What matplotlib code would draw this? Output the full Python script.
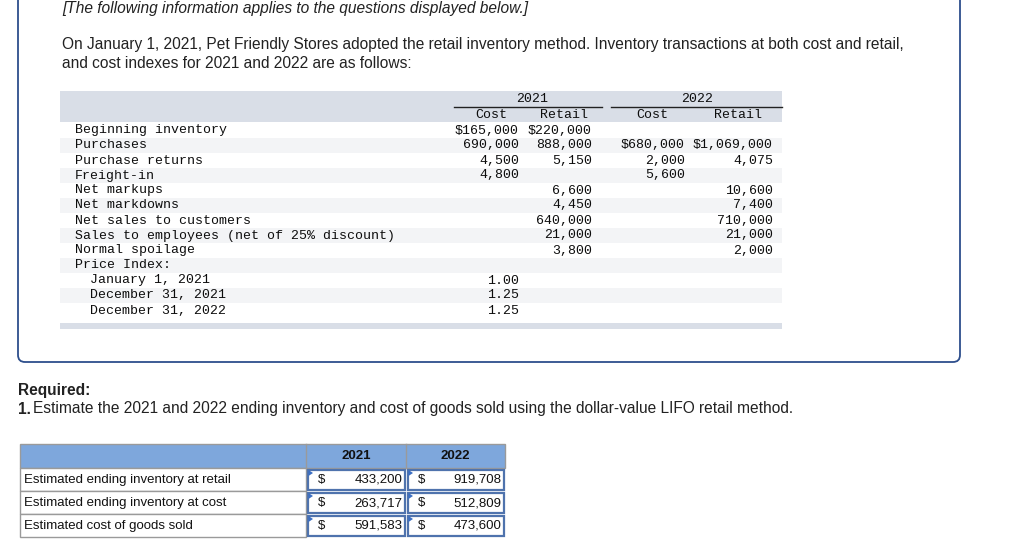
import matplotlib
matplotlib.use("Agg")
import matplotlib.pyplot as plt
from matplotlib.patches import Rectangle, FancyBboxPatch, Polygon

# ---------------- data ----------------
row_labels = ["Beginning inventory", "Purchases", "Purchase returns", "Freight-in",
              "Net markups", "Net markdowns", "Net sales to customers",
              "Sales to employees (net of 25% discount)", "Normal spoilage",
              "Price Index:", "  January 1, 2021", "  December 31, 2021", "  December 31, 2022"]
cost_2021 = [165000, 690000, 4500, 4800, None, None, None, None, None, None, None, None, None]
retail_2021 = [220000, 888000, 5150, None, 6600, 4450, 640000, 21000, 3800, None, None, None, None]
cost_2022 = [None, 680000, 2000, 5600, None, None, None, None, None, None, None, None, None]
retail_2022 = [None, 1069000, 4075, None, 10600, 7400, 710000, 21000, 2000, None, None, None, None]
price_index = [None, None, None, None, None, None, None, None, None, None, 1.00, 1.25, 1.25]

answer_labels = ["Estimated ending inventory at retail", "Estimated ending inventory at cost",
                 "Estimated cost of goods sold"]
answer_2021 = [433200, 263717, 591583]
answer_2022 = [919708, 512809, 473600]
answer_years = ["2021", "2022"]

# ---------------- figure ----------------
fig = plt.figure(figsize=(10.24, 5.48), dpi=100)
ax = fig.add_axes([0, 0, 1, 1])
ax.set_xlim(0, 1024)
ax.set_ylim(548, 0)
ax.axis("off")

SANS = ["Liberation Sans", "DejaVu Sans"]
MONO = ["Liberation Mono", "DejaVu Sans Mono"]
TXT = "#222222"
FS = 11.2

# outer box
ax.add_patch(FancyBboxPatch((18, -30), 942, 392, boxstyle="round,pad=0,rounding_size=7",
                            fill=False, ec="#2d4e8c", lw=1.3))

ax.text(62, 9, "[The following information applies to the questions displayed below.]",
        fontsize=FS, style="italic", family=SANS, color=TXT, va="center", ha="left")
ax.text(62, 45, "On January 1, 2021, Pet Friendly Stores adopted the retail inventory method. "
        "Inventory transactions at both cost and retail,",
        fontsize=FS, family=SANS, color=TXT, va="center", ha="left")
ax.text(62, 63, "and cost indexes for 2021 and 2022 are as follows:",
        fontsize=FS, family=SANS, color=TXT, va="center", ha="left")

# table background
x0, x1 = 60, 782
ax.add_patch(Rectangle((x0, 91), x1 - x0, 31, color="#d9dee7", lw=0))
row_y0 = 123
pitch = 15
for i in range(len(row_labels)):
    if i % 2 == 1:
        ax.add_patch(Rectangle((x0, row_y0 + i * pitch), x1 - x0, pitch, color="#f3f4f6", lw=0))
ax.add_patch(Rectangle((x0, 323), x1 - x0, 6, color="#d9dee7", lw=0))

MS = 9.5
MC = "#0d0d0d"
ax.text(532, 99, "2021", fontsize=MS, family=MONO, color=MC, ha="center", va="center")
ax.text(697, 99, "2022", fontsize=MS, family=MONO, color=MC, ha="center", va="center")
ax.plot([454, 602], [106.5, 106.5], color="#222", lw=1.0)
ax.plot([611, 782], [106.5, 106.5], color="#222", lw=1.0)
ax.text(491, 115, "Cost", fontsize=MS, family=MONO, color=MC, ha="center", va="center")
ax.text(564, 115, "Retail", fontsize=MS, family=MONO, color=MC, ha="center", va="center")
ax.text(652, 115, "Cost", fontsize=MS, family=MONO, color=MC, ha="center", va="center")
ax.text(738, 115, "Retail", fontsize=MS, family=MONO, color=MC, ha="center", va="center")


def fmt(v, dollar):
    return ("$" if dollar else "") + f"{v:,.0f}"


columns = [(cost_2021, 519), (retail_2021, 592), (cost_2022, 685), (retail_2022, 773)]
for i, lab in enumerate(row_labels):
    y = row_y0 + i * pitch + pitch / 2
    indent = 15 if lab.startswith("  ") else 0
    ax.text(75 + indent, y, lab.strip(), fontsize=MS, family=MONO, color=MC,
            ha="left", va="center")
for vals, xr in columns:
    first = True
    for i, v in enumerate(vals):
        if v is None:
            continue
        y = row_y0 + i * pitch + pitch / 2
        ax.text(xr, y, fmt(v, first), fontsize=MS, family=MONO, color=MC,
                ha="right", va="center")
        first = False
for i, v in enumerate(price_index):
    if v is None:
        continue
    y = row_y0 + i * pitch + pitch / 2
    ax.text(519, y, f"{v:.2f}", fontsize=MS, family=MONO, color=MC, ha="right", va="center")

# required
ax.text(18, 391, "Required:", fontsize=FS, weight="bold", family=SANS, color=TXT,
        ha="left", va="center")
ax.text(18, 409, "1.", fontsize=FS, weight="bold", family=SANS, color=TXT,
        ha="left", va="center")
ax.text(33, 409, "Estimate the 2021 and 2022 ending inventory and cost of goods sold using the "
        "dollar-value LIFO retail method.", fontsize=FS, family=SANS, color=TXT,
        ha="left", va="center")

# answer table
AS = 9.5
tx0, tc1, tc2, tx1 = 20, 306, 406, 505
ty0, thead = 444, 468
rh = 23
ax.add_patch(Rectangle((tx0, ty0), tx1 - tx0, thead - ty0, fc="#7ea7dc", ec="#9a9a9a", lw=1))
ax.plot([tc1, tc1], [ty0, thead], color="#9a9a9a", lw=1)
ax.plot([tc2, tc2], [ty0, thead], color="#9a9a9a", lw=1)
ax.text((tc1 + tc2) / 2, 456, answer_years[0], fontsize=AS, weight="bold", family=SANS,
        color="#111", ha="center", va="center")
ax.text((tc2 + tx1) / 2, 456, answer_years[1], fontsize=AS, weight="bold", family=SANS,
        color="#111", ha="center", va="center")
for i, lab in enumerate(answer_labels):
    yt = thead + i * rh
    ax.add_patch(Rectangle((tx0, yt), tc1 - tx0, rh, fc="white", ec="#9a9a9a", lw=1))
    ax.text(tx0 + 4, yt + rh / 2 + 0.5, lab, fontsize=AS, family=SANS, color="#111",
            ha="left", va="center")
    for (cx0, cx1), vals in zip([(tc1, tc2), (tc2, tx1)], [answer_2021, answer_2022]):
        ax.add_patch(Rectangle((cx0 + 1.5, yt + 1.5), cx1 - cx0 - 3, rh - 3, fc="white",
                               ec="#4f73ad", lw=1.6))
        ax.add_patch(Polygon([[cx0 + 2.5, yt + 2], [cx0 + 7, yt + 5], [cx0 + 2.5, yt + 8]],
                             closed=True, fc="#3b6fc4", ec="none"))
        ax.text(cx0 + 16, yt + rh / 2 + 0.5, "$", fontsize=AS, family=SANS, color="#111",
                ha="center", va="center")
        ax.text(cx1 - 3.5, yt + rh / 2 + 0.5, f"{vals[i]:,.0f}", fontsize=AS, family=SANS,
                color="#111", ha="right", va="center")

fig.savefig("out.png", dpi=100)
